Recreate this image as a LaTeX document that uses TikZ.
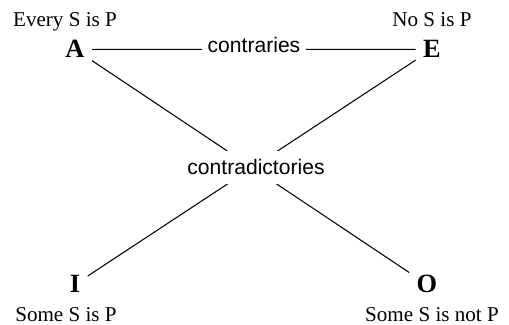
\documentclass[tikz,border=0pt]{standalone}
\usepackage{fontspec}
\setmainfont{Liberation Serif}
\setsansfont{Liberation Sans}
\tikzset{
  corner/.style={font=\fontsize{15}{18}\selectfont\bfseries,inner sep=4pt,anchor=base},
  claim/.style={font=\fontsize{12}{14}\selectfont,anchor=base},
  relation/.style={font=\sffamily\fontsize{12}{14}\selectfont,fill=white,anchor=base},
}
\begin{document}
\begin{tikzpicture}[line width=.6pt]
\useasboundingbox (0,0) rectangle (10.18,6.5);
% the four corners of the square
\node[corner] (A) at (1.50,5.34) {A};
\node[corner] (E) at (8.64,5.34) {E};
\node[corner] (I) at (1.50,0.64) {I};
\node[corner] (O) at (8.54,0.64) {O};
% what each corner says
\node[claim] (Aclaim) at (1.30,5.96) {Every S is P};
\node[claim] (Eclaim) at (8.64,5.96) {No S is P};
\node[claim] (Iclaim) at (1.32,0.06) {Some S is P};
\node[claim] (Oclaim) at (8.64,0.06) {Some S is not P};
% relations; labels sit on top of the lines
\draw (A) -- (E);
\draw (A) -- (O);
\draw (E) -- (I);
\node[relation,inner xsep=3pt] (contraries) at (5.08,5.44) {contraries};
\node[relation,inner ysep=5pt] (contradictories) at (5.12,3.00) {contradictories};
\end{tikzpicture}
\end{document}
